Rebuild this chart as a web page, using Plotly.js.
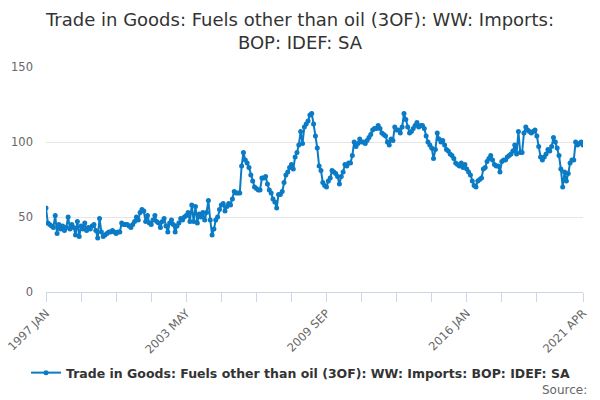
<!DOCTYPE html>
<html>
<head>
<meta charset="utf-8">
<script src="https://cdn.plot.ly/plotly-3.0.1.min.js"></script>
<style>
  html, body { margin: 0; padding: 0; background: #fff; }
  #graph { width: 600px; height: 400px; }
</style>
</head>
<body>
<div id="graph"></div>
<script>
/* ----- Data ------- */
var seriesName = 'Trade in Goods: Fuels other than oil (3OF): WW: Imports: BOP: IDEF: SA';
var monthNames = ['JAN', 'FEB', 'MAR', 'APR', 'MAY', 'JUN', 'JUL', 'AUG', 'SEP', 'OCT', 'NOV', 'DEC'];
var startYear = 1997;

// monthly values, 1997 JAN .. 2021 APR
var v1997 = [56, 46, 45, 44, 43, 51, 39, 45, 42, 44, 41, 43];
var v1998 = [50, 42, 45, 43, 38, 47, 37, 44, 42, 46, 41, 43];
var v1999 = [42, 44, 45, 41, 36, 49, 40, 37, 38, 39, 40, 40];
var v2000 = [41, 40, 39, 40, 40, 46, 45, 45, 45, 44, 43, 45];
var v2001 = [47, 50, 48, 53, 55, 54, 47, 51, 46, 45, 48, 51];
var v2002 = [47, 46, 43, 47, 49, 44, 40, 46, 48, 45, 40, 44];
var v2003 = [46, 49, 48, 50, 51, 53, 47, 58, 47, 57, 46, 52];
var v2004 = [50, 53, 48, 53, 61, 48, 38, 42, 48, 50, 55, 58];
var v2005 = [59, 54, 57, 59, 58, 62, 67, 66, 66, 66, 84, 93];
var v2006 = [88, 86, 83, 78, 74, 70, 69, 68, 68, 76, 76, 77];
var v2007 = [72, 68, 66, 62, 60, 56, 65, 65, 67, 73, 78, 80];
var v2008 = [83, 85, 82, 90, 93, 98, 107, 99, 110, 112, 114, 118];
var v2009 = [119, 112, 104, 96, 84, 81, 73, 71, 70, 74, 76, 81];
var v2010 = [80, 79, 77, 72, 77, 80, 85, 84, 86, 86, 91, 100];
var v2011 = [97, 99, 102, 100, 100, 99, 101, 103, 105, 108, 109, 109];
var v2012 = [111, 109, 106, 105, 104, 100, 98, 102, 101, 110, 108, 108];
var v2013 = [106, 110, 119, 115, 110, 106, 107, 109, 111, 113, 110, 111];
var v2014 = [111, 109, 104, 100, 98, 96, 89, 95, 106, 102, 100, 101];
var v2015 = [98, 95, 94, 92, 91, 89, 86, 85, 84, 86, 83, 85];
var v2016 = [82, 80, 78, 74, 71, 70, 74, 75, 76, 82, 83, 87];
var v2017 = [89, 91, 88, 85, 84, 84, 80, 87, 88, 88, 90, 91];
var v2018 = [92, 94, 98, 92, 107, 93, 93, 106, 110, 108, 107, 106];
var v2019 = [107, 108, 104, 97, 90, 88, 90, 92, 95, 94, 97, 103];
var v2020 = [100, 96, 91, 82, 70, 80, 74, 79, 86, 88, 88, 100];
var v2021 = [98, 99, 100, 98];

var values = [].concat(v1997, v1998, v1999, v2000, v2001, v2002, v2003, v2004,
    v2005, v2006, v2007, v2008, v2009, v2010, v2011, v2012, v2013, v2014,
    v2015, v2016, v2017, v2018, v2019, v2020, v2021);

var months = [];
for (var i = 0; i < values.length; i++) {
    months.push((startYear + Math.floor(i / 12)) + ' ' + monthNames[i % 12]);
}

var labelledMonths = ['1997 JAN', '2003 MAY', '2009 SEP', '2016 JAN', '2021 APR'];
var yTicks = [0, 50, 100, 150];

/* ------ Ticks: a mark every 19 months, labels on a few ------ */
var tickVals = [];
var tickText = [];
for (var k = 0; k < months.length - 19; k += 19) {
    tickVals.push(months[k]);
    tickText.push(labelledMonths.indexOf(months[k]) >= 0 ? months[k] : '');
}
tickVals.push(months[months.length - 1]);
tickText.push(months[months.length - 1]);

/* ------ Graph ------- */
var trace = {
    x: months,
    y: values,
    name: seriesName,
    type: 'scatter',
    mode: 'lines+markers',
    line: { color: '#0a7bc4', width: 2 },
    marker: { color: '#0a7bc4', size: 5 }
};

var layout = {
    width: 600,
    height: 400,
    font: { family: 'DejaVu Sans, sans-serif', color: '#666666' },
    paper_bgcolor: '#ffffff',
    plot_bgcolor: '#ffffff',
    margin: { l: 46, r: 17, t: 67, b: 108 },
    title: {
        text: 'Trade in Goods: Fuels other than oil (3OF): WW: Imports:<br>BOP: IDEF: SA',
        font: { size: 18, color: '#333333' },
        x: 0.5,
        xanchor: 'center',
        y: 0.936,
        yanchor: 'middle'
    },
    showlegend: true,
    legend: {
        orientation: 'h',
        x: 0.474,
        xanchor: 'center',
        y: -0.36,
        yanchor: 'middle',
        itemwidth: 30,
        font: { size: 12.5, color: '#333333', weight: 'bold' }
    },
    xaxis: {
        type: 'category',
        range: [0, months.length - 1],
        tickmode: 'array',
        tickvals: tickVals,
        ticktext: tickText,
        tickangle: -45,
        ticks: 'outside',
        ticklen: 9,
        tickcolor: '#ccd6eb',
        showline: true,
        linecolor: '#ccd6eb',
        linewidth: 1,
        showgrid: false,
        zeroline: false,
        tickfont: { size: 11.5, color: '#666666' }
    },
    yaxis: {
        range: [0, 150],
        tickmode: 'array',
        tickvals: yTicks,
        showgrid: true,
        gridcolor: '#e6e6e6',
        zeroline: false,
        showline: false,
        ticks: '',
        ticklabelstandoff: 12,
        tickfont: { size: 11.5, color: '#666666' }
    },
    annotations: [{
        text: 'Source:',
        xref: 'paper',
        yref: 'paper',
        x: 1.012,
        y: -0.436,
        xanchor: 'right',
        yanchor: 'middle',
        showarrow: false,
        font: { size: 12, color: '#666666' }
    }]
};

var graph = document.getElementById('graph');
Plotly.newPlot(graph, [trace], layout, { displayModeBar: false, staticPlot: true });
</script>
</body>
</html>
